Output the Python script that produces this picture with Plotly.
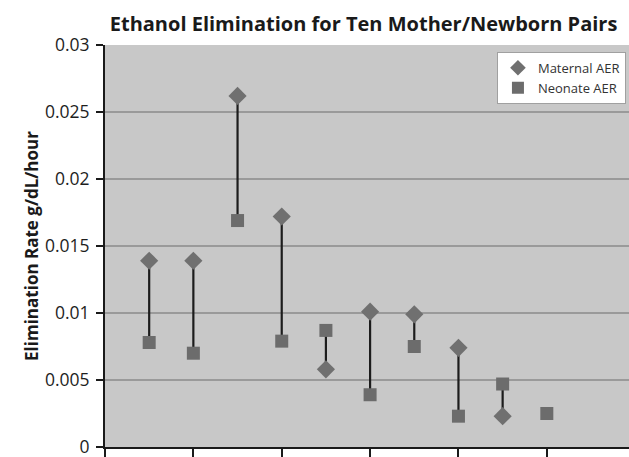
import plotly.graph_objects as go

pairs = list(range(1, 11))
maternal_aer = [0.0139, 0.0139, 0.0262, 0.0172, 0.0058, 0.0101, 0.0099, 0.0074, 0.0023, None]
neonate_aer = [0.0078, 0.0070, 0.0169, 0.0079, 0.0087, 0.0039, 0.0075, 0.0023, 0.0047, 0.0025]
y_ticks = [0, 0.005, 0.01, 0.015, 0.02, 0.025, 0.03]
y_tick_labels = ["0", "0.005", "0.01", "0.015", "0.02", "0.025", "0.03"]

# connector segments between maternal and neonate values
seg_x, seg_y = [], []
for p, m, n in zip(pairs, maternal_aer, neonate_aer):
    if m is None or n is None:
        continue
    seg_x += [p, p, None]
    seg_y += [m, n, None]

fig = go.Figure()
fig.add_trace(go.Scatter(x=seg_x, y=seg_y, mode="lines",
                         line=dict(color="#1c1c1c", width=2.2),
                         showlegend=False, hoverinfo="skip"))
fig.add_trace(go.Scatter(x=pairs, y=maternal_aer, mode="markers", name="Maternal AER",
                         marker=dict(symbol="diamond", size=14, color="#707070")))
fig.add_trace(go.Scatter(x=pairs, y=neonate_aer, mode="markers", name="Neonate AER",
                         marker=dict(symbol="square", size=13, color="#6c6c6c")))

fig.update_layout(
    width=629, height=457,
    margin=dict(l=105, r=0, t=45, b=10),
    paper_bgcolor="white",
    plot_bgcolor="#c8c8c8",
    font=dict(family="Open Sans", color="#1e1e1e"),
    title=dict(text="<b>Ethanol Elimination for Ten Mother/Newborn Pairs</b>",
               font=dict(size=20, family="Open Sans", color="#1a1a1a"),
               x=0.578, xanchor="center", y=0.948, yanchor="middle"),
    legend=dict(x=0.748, y=0.983, xanchor="left", yanchor="top",
                bgcolor="white", bordercolor="#a0a0a0", borderwidth=1,
                font=dict(size=13, color="#333333"),
                itemsizing="constant", tracegroupgap=0,
                traceorder="normal"),
    showlegend=True,
)
fig.update_xaxes(range=[0, 11.86], tickvals=[0, 2, 4, 6, 8, 10, 12], showticklabels=False,
                 ticks="outside", ticklen=8, tickwidth=1.5, tickcolor="#1a1a1a",
                 showgrid=False, zeroline=False,
                 showline=True, linecolor="#1a1a1a", linewidth=2)
fig.update_yaxes(range=[0, 0.03], tickvals=y_ticks, ticktext=y_tick_labels,
                 ticks="outside", ticklen=7, tickwidth=1.5, tickcolor="#1a1a1a",
                 tickfont=dict(size=17.5, color="#1e1e1e"),
                 ticklabelstandoff=3, ticklabeloverflow="allow",
                 showgrid=True, gridcolor="#9a9a9a", gridwidth=1.6,
                 zeroline=False, showline=True, linecolor="#1a1a1a", linewidth=2,
                 title=dict(text="<b>Elimination Rate g/dL/hour</b>",
                            font=dict(size=17, color="#1a1a1a"), standoff=2))

fig.write_html("out.html", config={"displayModeBar": False},
               post_script="document.body.style.margin='0';document.body.style.overflow='hidden';")
